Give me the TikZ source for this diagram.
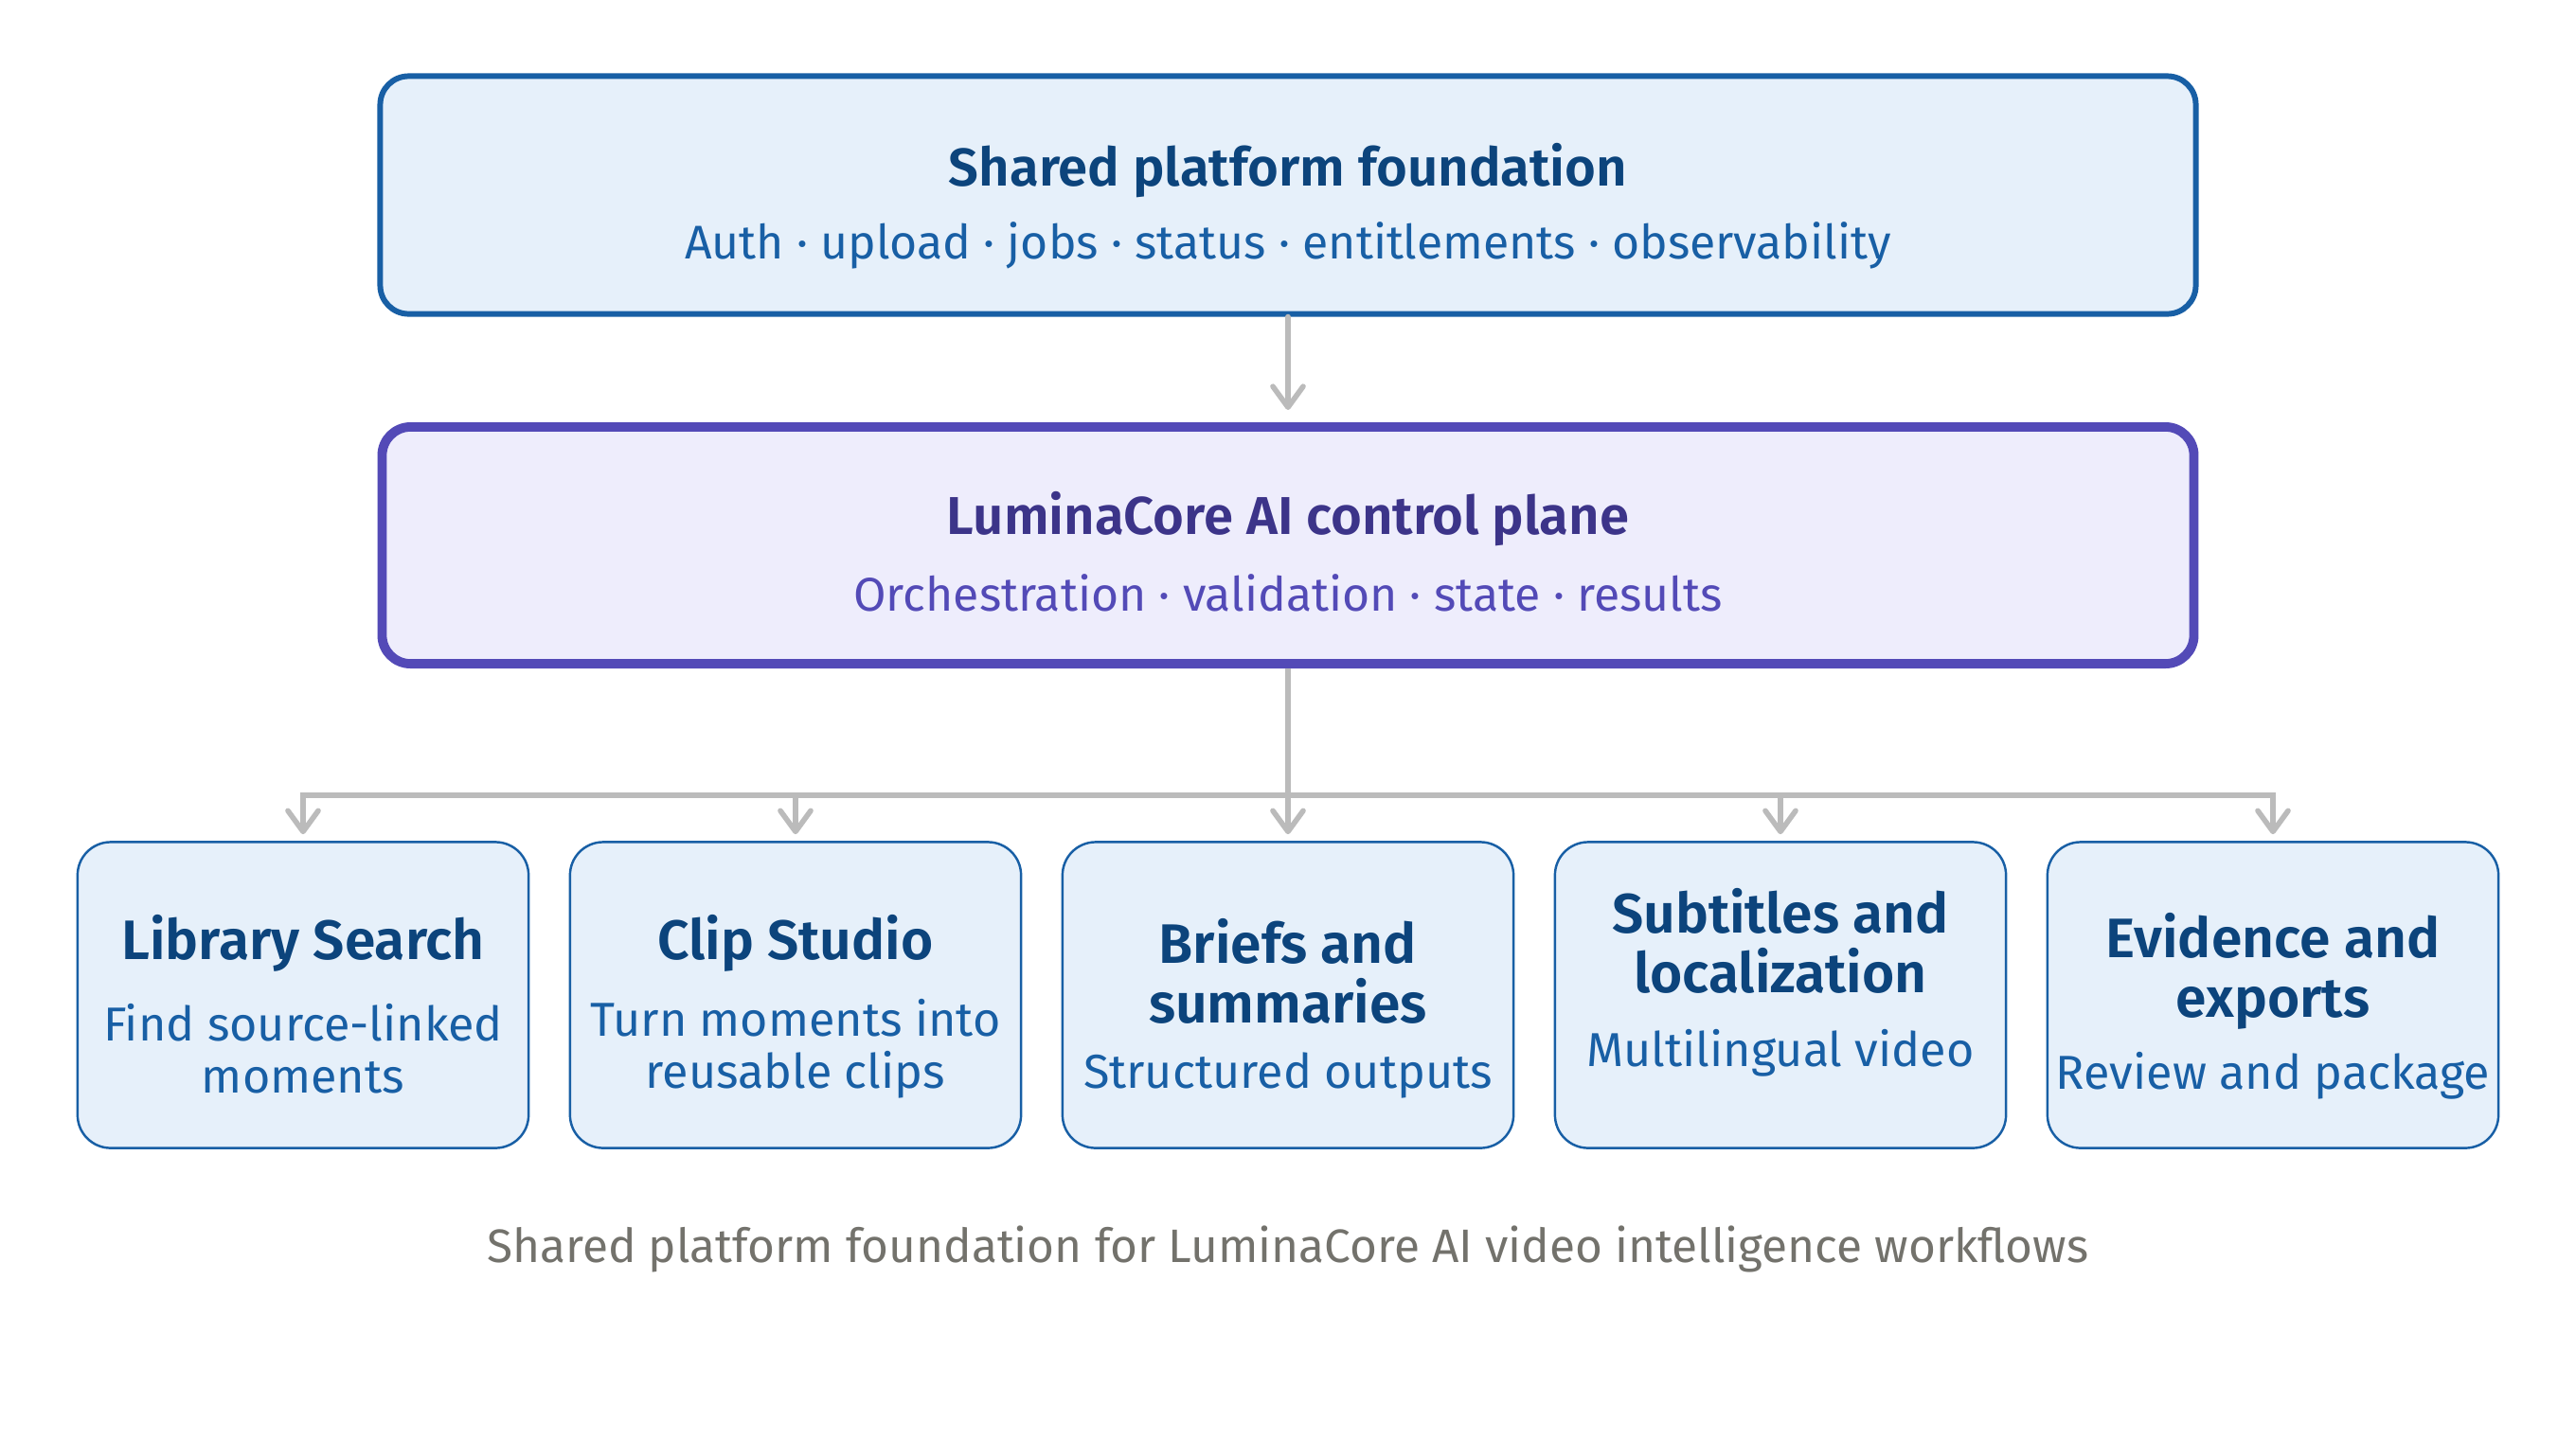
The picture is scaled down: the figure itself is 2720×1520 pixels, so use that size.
\documentclass[tikz,border=0pt]{standalone}
\usepackage{fontspec}
\setmainfont{Fira Sans}[BoldFont={Fira Sans SemiBold}]
\usetikzlibrary{arrows.meta}

\definecolor{blueline}{HTML}{185FA5}
\definecolor{bluefill}{HTML}{E6F0FA}
\definecolor{bluetitle}{HTML}{0C447C}
\definecolor{purpleline}{HTML}{534AB7}
\definecolor{purplefill}{HTML}{EEEDFC}
\definecolor{purpletitle}{HTML}{3C3489}
\definecolor{linkgray}{HTML}{BBBBBB}
\definecolor{captiongray}{HTML}{73726C}

\begin{document}
\begin{tikzpicture}[x=0.01cm, y=-0.01cm,
        topbox/.style={draw=blueline, fill=bluefill, line width=1.7pt, rounded corners=0.3cm,
            minimum width=19.16cm, minimum height=2.51cm},
        corebox/.style={draw=purpleline, fill=purplefill, line width=2.8pt, rounded corners=0.3cm,
            minimum width=19.12cm, minimum height=2.5cm},
        toolbox/.style={draw=blueline, fill=bluefill, line width=0.7pt, rounded corners=0.35cm,
            minimum width=4.76cm, minimum height=3.23cm},
        bigtitle/.style={font=\bfseries\fontsize{16}{18}\selectfont},
        bigsub/.style={font=\fontsize{14.2}{16}\selectfont},
        tooltitle/.style={font=\bfseries\fontsize{16.7}{17.9}\selectfont, text=bluetitle, align=center},
        toolsub/.style={font=\fontsize{14.3}{15.6}\selectfont, text=blueline, align=center},
        link/.style={draw=linkgray, line width=1.6pt},
        arrow/.style={link, -{Straight Barb[length=0.22cm, width=0.32cm, round]}, line cap=round}
    ]
            \useasboundingbox (0,0) rectangle (2720,1520);

            \node[topbox] (found) at (1360,206) {};
            \node[bigtitle, text=bluetitle] (foundtitle) at (1360,180) {Shared platform foundation};
            \node[bigsub, text=blueline] (foundsub) at (1360,259) {Auth · upload · jobs · status · entitlements · observability};

            \node[corebox] (core) at (1360,576) {};
            \node[bigtitle, text=purpletitle] (coretitle) at (1360,548) {LuminaCore AI control plane};
            \node[bigsub, text=purpleline] (coresub) at (1360,626) {Orchestration · validation · state · results};

            \node[toolbox] (search) at (320,1051) {};
            \node[tooltitle] (searchtitle) at (320,996) {Library Search};
            \node[toolsub] (searchsub) at (320,1108) {Find source-linked\\moments};

            \node[toolbox] (clip) at (840,1051) {};
            \node[tooltitle] (cliptitle) at (840,996) {Clip Studio};
            \node[toolsub] (clipsub) at (840,1108) {Turn moments into\\reusable clips};

            \node[toolbox] (brief) at (1360,1051) {};
            \node[tooltitle] (brieftitle) at (1360,1026) {Briefs and\\summaries};
            \node[toolsub] (briefsub) at (1360,1136) {Structured outputs};

            \node[toolbox] (subs) at (1880,1051) {};
            \node[tooltitle] (substitle) at (1880,994) {Subtitles and\\localization};
            \node[toolsub] (subssub) at (1880,1112) {Multilingual video};

            \node[toolbox] (evid) at (2400,1051) {};
            \node[tooltitle] (evidtitle) at (2400,1026) {Evidence and\\exports};
            \node[toolsub] (evidsub) at (2400,1136) {Review and package};

            \node[font=\fontsize{14.1}{16}\selectfont, text=captiongray] (caption) at (1360,1319)
                {Shared platform foundation for LuminaCore AI video intelligence workflows};

            \coordinate (bus) at (1360,840);

            \draw[arrow, shorten >=0.13cm] (found.south) -- (core.north);
            \draw[link] (core.south) -- (bus);
            \draw[arrow, shorten >=0.07cm] (bus) -| (search.north);
            \draw[arrow, shorten >=0.07cm] (bus) -| (clip.north);
            \draw[arrow, shorten >=0.07cm] (bus) -- (brief.north);
            \draw[arrow, shorten >=0.07cm] (bus) -| (subs.north);
            \draw[arrow, shorten >=0.07cm] (bus) -| (evid.north);
        \end{tikzpicture}
\end{document}
